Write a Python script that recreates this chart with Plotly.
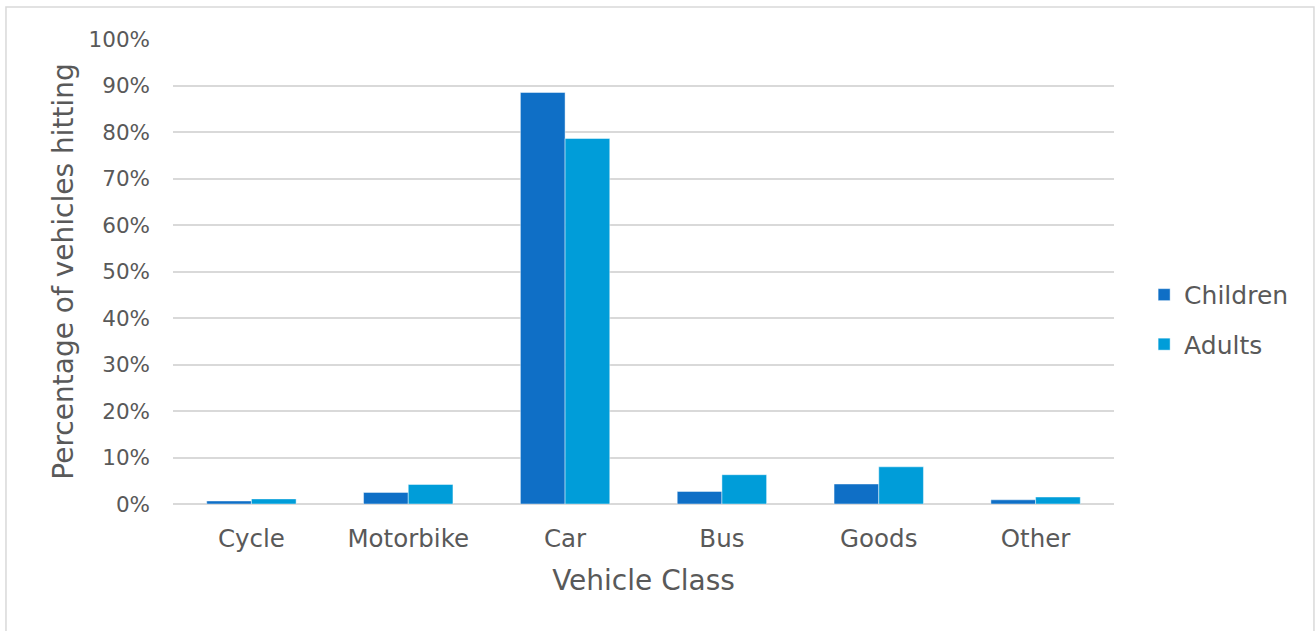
import plotly.graph_objects as go

categories = ["Cycle", "Motorbike", "Car", "Bus", "Goods", "Other"]
children = [0.65, 2.5, 88.5, 2.7, 4.3, 0.9]
adults = [1.1, 4.2, 78.6, 6.3, 8.0, 1.5]
y_ticks = [0, 10, 20, 30, 40, 50, 60, 70, 80, 90, 100]
y_tick_labels = [f"{v}%" for v in y_ticks]

FONT = "'DejaVu Sans', sans-serif"
TEXT = "#595959"
GRID = "#D9D9D9"

fig = go.Figure()
fig.add_trace(go.Bar(
    name="Children", x=categories, y=children, legendgroup="c",
    marker=dict(color="#0F6FC6", line=dict(color="rgba(255,255,255,0.45)", width=1)),
))
fig.add_trace(go.Bar(
    name="Adults", x=categories, y=adults, legendgroup="a",
    marker=dict(color="#009DD9", line=dict(color="rgba(255,255,255,0.45)", width=1)),
))

fig.update_layout(
    width=1316, height=631,
    margin=dict(l=173, r=202, t=39, b=127),
    paper_bgcolor="white", plot_bgcolor="white",
    barmode="group", bargap=0.43, bargroupgap=0,
    font=dict(family=FONT, color=TEXT, size=22),
    showlegend=True,
    legend=dict(x=1.032, xanchor="left", y=0.397, yanchor="middle",
                font=dict(size=25, color=TEXT), itemwidth=30,
                traceorder="grouped", tracegroupgap=14,
                bgcolor="rgba(0,0,0,0)"),
    xaxis=dict(
        showgrid=False, showline=False, ticks="",
        tickfont=dict(size=24.5, color=TEXT), ticklabelstandoff=17,
        title=dict(text="Vehicle Class", font=dict(size=28, color=TEXT), standoff=18),
    ),
    yaxis=dict(
        range=[0, 100], tickvals=y_ticks, ticktext=y_tick_labels,
        showgrid=True, gridcolor=GRID, gridwidth=1.5,
        zeroline=True, zerolinecolor=GRID, zerolinewidth=1.5,
        showline=False, ticks="", ticklabelstandoff=22,
        tickfont=dict(size=21.5, color=TEXT),
        title=dict(text="Percentage of vehicles hitting", font=dict(size=28, color=TEXT), standoff=6),
    ),
)

# outer chart frame
fig.add_shape(type="rect", xref="paper", yref="paper",
              x0=-0.1775, x1=1.2125, y0=-0.30, y1=1.0688,
              line=dict(color="#D9D9D9", width=1.5), fillcolor="rgba(0,0,0,0)", layer="below")

fig.write_html("out.html")
